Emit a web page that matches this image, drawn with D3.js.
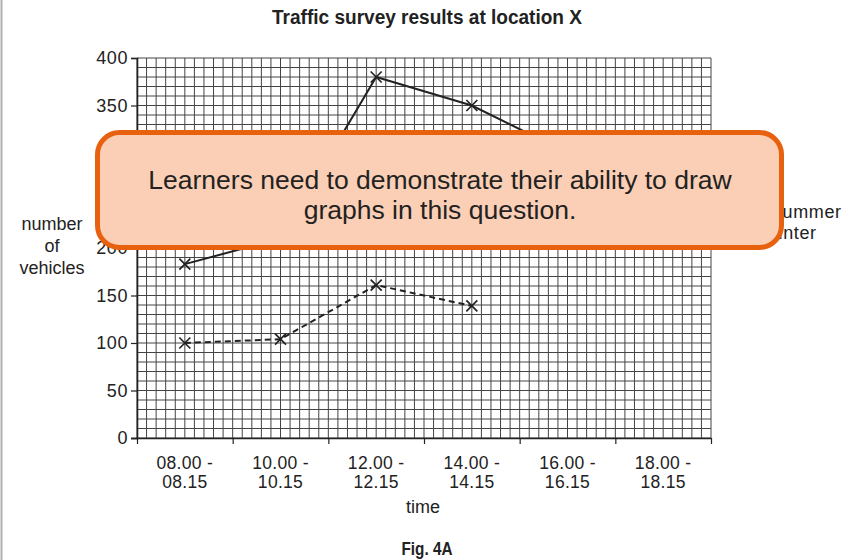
<!DOCTYPE html>
<html>
<head>
<meta charset="utf-8">
<script src="https://cdn.jsdelivr.net/npm/d3@7"></script>
<style>
  html, body { margin: 0; padding: 0; background: #fff; }
  svg { display: block; }
  text { font-family: "Liberation Sans", Arial, sans-serif; fill: #222; }
</style>
</head>
<body>
<svg id="chart" width="852" height="560"></svg>
<script>
// ---- data ----
const categories = ["08.00 - 08.15", "10.00 - 10.15", "12.00 - 12.15", "14.00 - 14.15", "16.00 - 16.15", "18.00 - 18.15"];
const summerValues = [183, 210, 380, 350, 300];
const winterValues = [100, 104, 161, 139];
const yTicks = [0, 50, 100, 150, 200, 250, 300, 350, 400];
const seriesNames = ["summer", "winter"];
const titleText = "Traffic survey results at location X";
const calloutLines = ["Learners need to demonstrate their ability to draw", "graphs in this question."];

(function () {
const svg = d3.select("#chart");

// left page border
svg.append("line").attr("x1", 1.5).attr("x2", 1.5).attr("y1", 0).attr("y2", 560)
  .attr("stroke", "#b0b0b0").attr("stroke-width", 2);

const pl = 137, pr = 711, pt = 58, pb = 438;
const x = d3.scaleBand().domain(categories).range([pl, pr]).padding(0);
const xb = d3.scaleLinear().domain([0, categories.length]).range([pl, pr]);
const y = d3.scaleLinear().domain([0, 400]).range([pb, pt]);

// grid
const g = svg.append("g");
const vCount = categories.length * 10;
for (let i = 0; i <= vCount; i++) {
  const xx = xb(i / 10);
  g.append("line").attr("x1", xx).attr("x2", xx).attr("y1", pt).attr("y2", pb)
    .attr("stroke", "#444").attr("stroke-width", 1);
}
for (let v = 0; v <= 400; v += 10) {
  g.append("line").attr("x1", pl).attr("x2", pr).attr("y1", y(v)).attr("y2", y(v))
    .attr("stroke", "#444").attr("stroke-width", 1);
}

// axes
const yAxis = svg.append("g").attr("transform", `translate(${pl},0)`)
  .call(d3.axisLeft(y).tickValues(yTicks).tickSize(6).tickPadding(3));
yAxis.select(".domain").attr("stroke", "#222").attr("stroke-width", 1.6);
yAxis.selectAll(".tick line").attr("stroke", "#222").attr("stroke-width", 1.2);
yAxis.selectAll(".tick text").attr("font-size", 18).attr("letter-spacing", 0.6)
  .attr("font-family", "Liberation Sans, Arial, sans-serif").attr("fill", "#222");

const xAxis = svg.append("g").attr("transform", `translate(0,${pb})`)
  .call(d3.axisBottom(xb).tickValues(d3.range(0, categories.length + 1)).tickSize(6).tickFormat(""));
xAxis.select(".domain").attr("stroke", "#222").attr("stroke-width", 1.6).attr("d", `M${pl - 6},0.5H${pr}`);
xAxis.selectAll(".tick line").attr("stroke", "#222").attr("stroke-width", 1.2);

// x labels (two lines)
categories.forEach(c => {
  const parts = c.split(" - ");
  const cxx = x(c) + x.bandwidth() / 2;
  const t = svg.append("text").attr("text-anchor", "middle").attr("font-size", 17.5).attr("letter-spacing", 0.3);
  t.append("tspan").attr("x", cxx).attr("y", 469).text(parts[0] + " -");
  t.append("tspan").attr("x", cxx).attr("y", 488).text(parts[1]);
});

// axis titles
svg.append("text").attr("x", 423).attr("y", 513).attr("text-anchor", "middle").attr("font-size", 18).text("time");
const yl = svg.append("text").attr("text-anchor", "middle").attr("font-size", 18);
["number", "of", "vehicles"].forEach((s, i) => yl.append("tspan").attr("x", 52).attr("y", 230 + i * 22).text(s));

// title & caption
svg.append("text").attr("x", 427).attr("y", 24).attr("text-anchor", "middle")
  .attr("font-weight", "bold").attr("font-size", 20)
  .attr("textLength", 310).attr("lengthAdjust", "spacingAndGlyphs").text(titleText);
svg.append("text").attr("x", 427).attr("y", 555).attr("text-anchor", "middle")
  .attr("font-weight", "bold").attr("font-size", 19)
  .attr("textLength", 51).attr("lengthAdjust", "spacingAndGlyphs").text("Fig. 4A");

// lines
const cx = (i) => x(categories[i]) + x.bandwidth() / 2;
const line = d3.line().x((d, i) => cx(i)).y(d => y(d));
svg.append("path").datum(summerValues).attr("d", line).attr("fill", "none")
  .attr("stroke", "#222").attr("stroke-width", 2);
svg.append("path").datum(winterValues).attr("d", line).attr("fill", "none")
  .attr("stroke", "#222").attr("stroke-width", 2).attr("stroke-dasharray", "6,4");

function crosses(vals) {
  vals.forEach((v, i) => {
    const px = cx(i), py = y(v), s = 5.5;
    svg.append("path").attr("d", `M${px - s},${py - s}L${px + s},${py + s}M${px - s},${py + s}L${px + s},${py - s}`)
      .attr("stroke", "#222").attr("stroke-width", 1.7).attr("fill", "none");
  });
}
crosses(summerValues);
crosses(winterValues);

// legend (mostly hidden behind callout)
const lg = svg.append("g");
lg.append("line").attr("x1", 725).attr("x2", 765).attr("y1", 212).attr("y2", 212).attr("stroke", "#222").attr("stroke-width", 1.8);
lg.append("line").attr("x1", 725).attr("x2", 765).attr("y1", 233).attr("y2", 233).attr("stroke", "#222").attr("stroke-width", 1.8).attr("stroke-dasharray", "5,4");
lg.append("text").attr("x", 773).attr("y", 218).attr("font-size", 18).attr("letter-spacing", 0.6).text(seriesNames[0]);
lg.append("text").attr("x", 765).attr("y", 239).attr("font-size", 18).attr("letter-spacing", 0.6).text(seriesNames[1]);

// callout
svg.append("rect").attr("x", 97.5).attr("y", 132.5).attr("width", 684).attr("height", 115).attr("rx", 22).attr("ry", 22)
  .attr("fill", "#FBCFB5").attr("stroke", "#E8610E").attr("stroke-width", 5);
calloutLines.forEach((s, i) => {
  svg.append("text").attr("x", 440).attr("y", 189 + i * 30).attr("text-anchor", "middle")
    .attr("font-size", 26.5).attr("fill", "#1a1a1a").text(s);
});
})();
</script>
</body>
</html>
